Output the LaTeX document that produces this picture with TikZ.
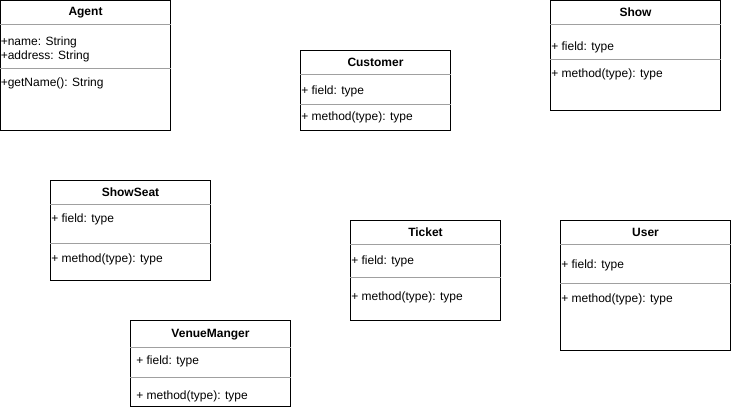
\documentclass[tikz,border=0pt]{standalone}
\usepackage{fontspec}
\setmainfont{Liberation Sans}
\usetikzlibrary{fit}
\definecolor{sepgray}{HTML}{A0A0A0}
\tikzset{
  classbox/.style={draw=black, line width=0.75pt, inner sep=0pt, fill=white},
  sepline/.style={draw=sepgray, line width=0.75pt},
  ctitle/.style={font=\fontsize{9}{11}\selectfont\bfseries, inner sep=0pt, yshift=-0.75pt},
  member/.style={font=\fontsize{9}{11}\selectfont, anchor=west, inner sep=0pt, yshift=-1.1pt},
}
\begin{document}
\begin{tikzpicture}[x=0.75pt,y=-0.75pt]
\useasboundingbox (0,0) rectangle (731,410);
% Agent
\node[classbox, fit={(0.5,0.5) (170.5,130.5)}] (agent) {};
\draw[sepline] (agent.west |- 0,24.5) -- (agent.east |- 0,24.5);
\draw[sepline] (agent.west |- 0,68.5) -- (agent.east |- 0,68.5);
\node[ctitle] (agentT) at (85.5,11.5) {Agent};
\node[member] (agentF1) at (0.5,40.5) {+name: String};
\node[member] (agentF2) at (0.5,54.5) {+address: String};
\node[member] (agentM1) at (0.5,81.5) {+getName(): String};
% Customer
\node[classbox, fit={(300.5,50.5) (450.5,130.5)}] (cust) {};
\draw[sepline] (cust.west |- 0,74.5) -- (cust.east |- 0,74.5);
\draw[sepline] (cust.west |- 0,104.5) -- (cust.east |- 0,104.5);
\node[ctitle] (custT) at (375.5,61) {Customer};
\node[member] (custF) at (301,89.5) {+ field: type};
\node[member] (custM) at (301,115.5) {+ method(type): type};
% Show
\node[classbox, fit={(550.5,0.5) (720.5,110.5)}] (show) {};
\draw[sepline] (show.west |- 0,24.5) -- (show.east |- 0,24.5);
\draw[sepline] (show.west |- 0,59.5) -- (show.east |- 0,59.5);
\node[ctitle] (showT) at (635.5,11.5) {Show};
\node[member] (showF) at (551,45.5) {+ field: type};
\node[member] (showM) at (551,72.5) {+ method(type): type};
% ShowSeat
\node[classbox, fit={(50.5,180.5) (210.5,280.5)}] (seat) {};
\draw[sepline] (seat.west |- 0,204.5) -- (seat.east |- 0,204.5);
\draw[sepline] (seat.west |- 0,243.5) -- (seat.east |- 0,243.5);
\node[ctitle] (seatT) at (130.5,191.5) {ShowSeat};
\node[member] (seatF) at (51,217.5) {+ field: type};
\node[member] (seatM) at (51,257.5) {+ method(type): type};
% Ticket
\node[classbox, fit={(350.5,220.5) (500.5,320.5)}] (ticket) {};
\draw[sepline] (ticket.west |- 0,244.5) -- (ticket.east |- 0,244.5);
\draw[sepline] (ticket.west |- 0,277.5) -- (ticket.east |- 0,277.5);
\node[ctitle] (ticketT) at (425.5,231.5) {Ticket};
\node[member] (ticketF) at (351,259.5) {+ field: type};
\node[member] (ticketM) at (351,295.5) {+ method(type): type};
% User
\node[classbox, fit={(560.5,220.5) (730,350.5)}] (user) {};
\draw[sepline] (user.west |- 0,244.5) -- (user.east |- 0,244.5);
\draw[sepline] (user.west |- 0,283.5) -- (user.east |- 0,283.5);
\node[ctitle] (userT) at (645.5,231.5) {User};
\node[member] (userF) at (561,263.5) {+ field: type};
\node[member] (userM) at (561,297.5) {+ method(type): type};
% VenueManger
\node[classbox, fit={(130.5,320.5) (290.5,406.5)}] (venue) {};
\draw[sepline] (venue.west |- 0,347.5) -- (venue.east |- 0,347.5);
\draw[sepline] (venue.west |- 0,377.5) -- (venue.east |- 0,377.5);
\node[ctitle] (venueT) at (210.5,334) {VenueManger};
\node[member] (venueF) at (136,359.5) {+ field: type};
\node[member] (venueM) at (136,394.5) {+ method(type): type};
\end{tikzpicture}
\end{document}
